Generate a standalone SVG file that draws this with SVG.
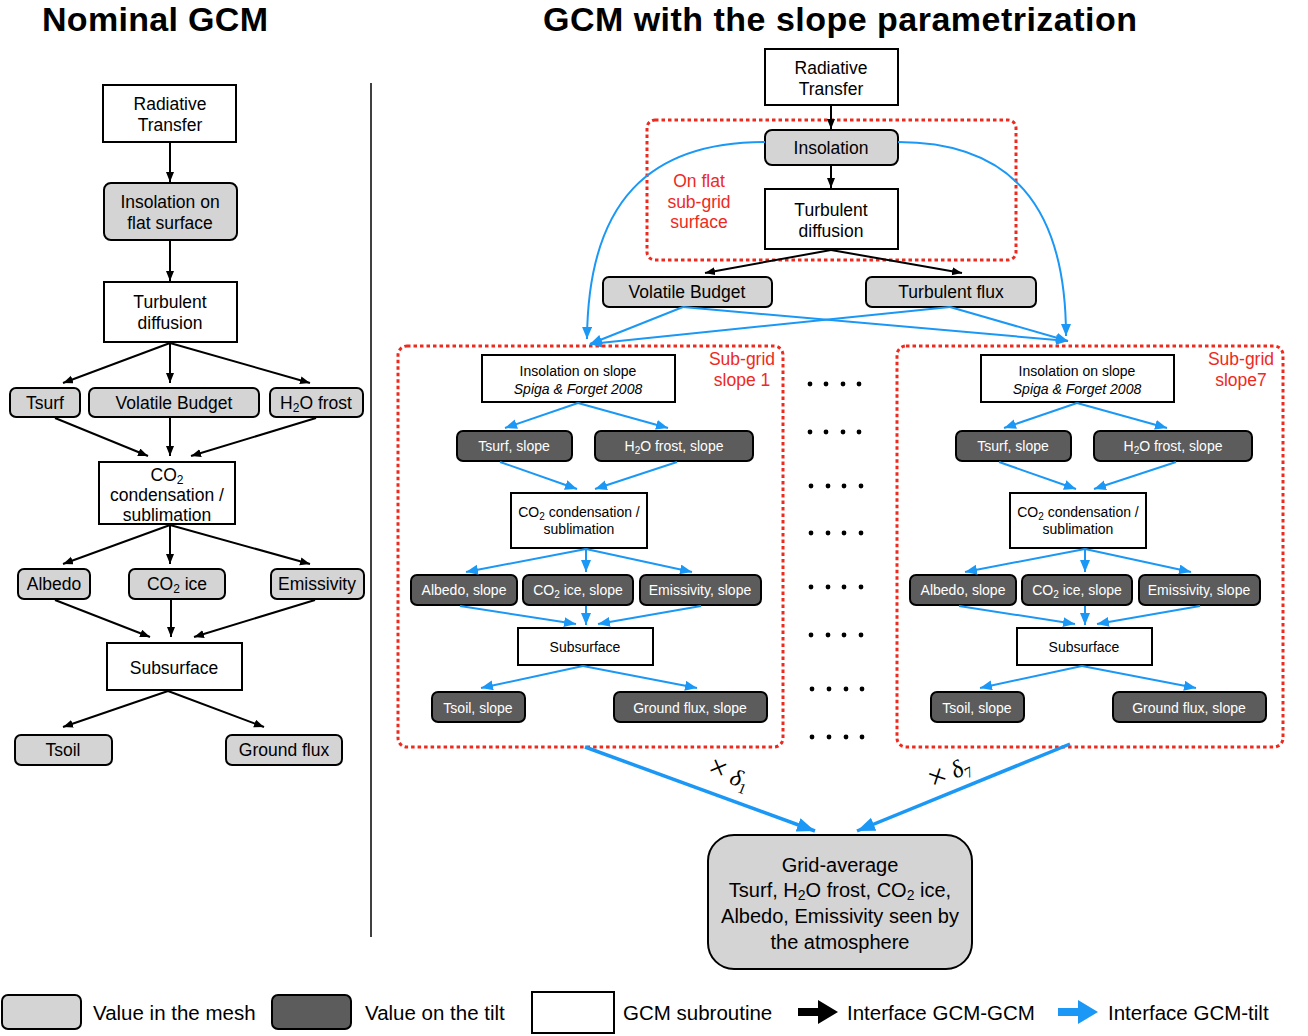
<svg xmlns="http://www.w3.org/2000/svg" width="1308" height="1036" viewBox="0 0 1308 1036">
<style>
text{font-family:"Liberation Sans",Arial,sans-serif;fill:#000}
.title{font-size:34px;font-weight:bold;text-anchor:middle}
.box{fill:#fff;stroke:#000;stroke-width:2}
.lg{fill:#d4d4d4;stroke:#000;stroke-width:2}
.dk{fill:#5c5c5c;stroke:#000;stroke-width:2}
.t17{font-size:17.5px;text-anchor:middle}
.t14{font-size:14px;text-anchor:middle}
.w14{font-size:14px;text-anchor:middle;fill:#fff}
.red{font-size:17.5px;text-anchor:middle;fill:#ee2a1e}
.redbox{fill:none;stroke:#ee2a1e;stroke-width:3;stroke-dasharray:3.5 3}
.blk{stroke:#000;stroke-width:2;fill:none;marker-end:url(#ab)}
.blu{stroke:#1b98f5;stroke-width:2;fill:none;marker-end:url(#au)}
.bluT{stroke:#1b98f5;stroke-width:3.5;fill:none;marker-end:url(#auT)}
.leg{font-size:20.5px}
.dot{fill:#000}
.dl{font-family:"Liberation Serif",serif;font-size:24px}
</style>
<defs>
<marker id="ab" markerUnits="userSpaceOnUse" markerWidth="11" markerHeight="9" refX="10" refY="4" orient="auto"><path d="M0,0 L10,4 L0,8 z" fill="#000"/></marker>
<marker id="au" markerUnits="userSpaceOnUse" markerWidth="13" markerHeight="11" refX="12" refY="5" orient="auto"><path d="M0,0 L12,5 L0,10 z" fill="#1b98f5"/></marker>
<marker id="auT" markerUnits="userSpaceOnUse" markerWidth="19" markerHeight="15" refX="18" refY="7" orient="auto"><path d="M0,0 L18,7 L0,14 z" fill="#1b98f5"/></marker>
</defs>
<rect width="1308" height="1036" fill="#fff"/>

<text class="title" x="155" y="31" textLength="226">Nominal GCM</text>
<text class="title" x="840" y="31" textLength="594">GCM with the slope parametrization</text>
<line x1="371" y1="83" x2="371" y2="937" stroke="#000" stroke-width="1.5"/>

<!-- Left column nodes -->
<g id="L_rad"><rect class="box" x="103" y="85" width="133" height="57"/><text class="t17" x="170" y="110">Radiative</text><text class="t17" x="170" y="131">Transfer</text></g>
<g id="L_insol"><rect class="lg" x="104" y="183" width="133" height="57" rx="7"/><text class="t17" x="170" y="208">Insolation on</text><text class="t17" x="170" y="229">flat surface</text></g>
<g id="L_turb"><rect class="box" x="104" y="282" width="133" height="60"/><text class="t17" x="170" y="308">Turbulent</text><text class="t17" x="170" y="329">diffusion</text></g>
<g id="L_tsurf"><rect class="lg" x="10" y="388" width="70" height="29" rx="6"/><text class="t17" x="45" y="409">Tsurf</text></g>
<g id="L_vb"><rect class="lg" x="89" y="388" width="170" height="29" rx="6"/><text class="t17" x="174" y="409">Volatile Budget</text></g>
<g id="L_h2o"><rect class="lg" x="270" y="388" width="93" height="29" rx="6"/><text class="t17" x="316" y="409">H<tspan font-size="12" dy="3">2</tspan><tspan dy="-3">O frost</tspan></text></g>
<g id="L_co2"><rect class="box" x="99" y="462" width="136" height="62"/><text class="t17" x="167" y="481">CO<tspan font-size="12" dy="3">2</tspan></text><text class="t17" x="167" y="501">condensation /</text><text class="t17" x="167" y="521">sublimation</text></g>
<g id="L_alb"><rect class="lg" x="18" y="569" width="72" height="30" rx="6"/><text class="t17" x="54" y="590">Albedo</text></g>
<g id="L_co2ice"><rect class="lg" x="129" y="569" width="96" height="30" rx="6"/><text class="t17" x="177" y="590">CO<tspan font-size="12" dy="3">2</tspan><tspan dy="-3"> ice</tspan></text></g>
<g id="L_emis"><rect class="lg" x="271" y="569" width="93" height="30" rx="6"/><text class="t17" x="317" y="590">Emissivity</text></g>
<g id="L_sub"><rect class="box" x="107" y="643" width="135" height="47"/><text class="t17" x="174" y="674">Subsurface</text></g>
<g id="L_tsoil"><rect class="lg" x="15" y="735" width="97" height="30" rx="6"/><text class="t17" x="63" y="756">Tsoil</text></g>
<g id="L_gf"><rect class="lg" x="226" y="735" width="116" height="30" rx="6"/><text class="t17" x="284" y="756">Ground flux</text></g>

<!-- Right top -->
<g id="flatzone"><rect class="redbox" x="647" y="120" width="369" height="140" rx="8"/><text class="red" x="699" y="187">On flat</text><text class="red" x="699" y="208">sub-grid</text><text class="red" x="699" y="228">surface</text></g>
<g id="R_rad"><rect class="box" x="765" y="49" width="133" height="56"/><text class="t17" x="831" y="74">Radiative</text><text class="t17" x="831" y="95">Transfer</text></g>
<g id="R_insol"><rect class="lg" x="765" y="130" width="133" height="35" rx="7"/><text class="t17" x="831" y="154">Insolation</text></g>
<g id="R_turb"><rect class="box" x="765" y="189" width="133" height="60"/><text class="t17" x="831" y="216">Turbulent</text><text class="t17" x="831" y="237">diffusion</text></g>
<g id="R_vb"><rect class="lg" x="603" y="277" width="169" height="30" rx="6"/><text class="t17" x="687" y="298">Volatile Budget</text></g>
<g id="R_tf"><rect class="lg" x="866" y="277" width="170" height="30" rx="6"/><text class="t17" x="951" y="298">Turbulent flux</text></g>

<!-- Slope 1 -->
<g id="slope1">
<g id="S1_zone"><rect class="redbox" x="398" y="346" width="385" height="401" rx="9"/><text class="red" x="742" y="365">Sub-grid</text><text class="red" x="742" y="386">slope 1</text></g>
<g id="S1_insol"><rect class="box" x="482" y="355" width="193" height="47"/><text class="t14" x="578" y="376">Insolation on slope</text><text class="t14" x="578" y="394" font-style="italic">Spiga &amp; Forget 2008</text></g>
<g id="S1_tsurf"><rect class="dk" x="457" y="431" width="115" height="30" rx="6"/><text class="w14" x="514" y="451">Tsurf, slope</text></g>
<g id="S1_h2o"><rect class="dk" x="595" y="431" width="158" height="30" rx="6"/><text class="w14" x="674" y="451">H<tspan font-size="10" dy="2.5">2</tspan><tspan dy="-2.5">O frost, slope</tspan></text></g>
<g id="S1_co2"><rect class="box" x="511" y="493" width="136" height="55"/><text class="t14" x="579" y="517">CO<tspan font-size="10" dy="2.5">2</tspan><tspan dy="-2.5"> condensation /</tspan></text><text class="t14" x="579" y="534">sublimation</text></g>
<g id="S1_alb"><rect class="dk" x="411" y="575" width="106" height="30" rx="6"/><text class="w14" x="464" y="595">Albedo, slope</text></g>
<g id="S1_ice"><rect class="dk" x="523" y="575" width="110" height="30" rx="6"/><text class="w14" x="578" y="595">CO<tspan font-size="10" dy="2.5">2</tspan><tspan dy="-2.5"> ice, slope</tspan></text></g>
<g id="S1_emis"><rect class="dk" x="640" y="575" width="121" height="30" rx="6"/><text class="w14" x="700" y="595">Emissivity, slope</text></g>
<g id="S1_sub"><rect class="box" x="518" y="628" width="135" height="37"/><text class="t14" x="585" y="652">Subsurface</text></g>
<g id="S1_tsoil"><rect class="dk" x="432" y="692" width="93" height="30" rx="6"/><text class="w14" x="478" y="713">Tsoil, slope</text></g>
<g id="S1_gf"><rect class="dk" x="614" y="692" width="153" height="30" rx="6"/><text class="w14" x="690" y="713">Ground flux, slope</text></g>
</g>

<!-- Slope 7 -->
<g id="slope7" transform="translate(499,0)">
<g id="S7_zone"><rect class="redbox" x="398" y="346" width="386" height="401" rx="9"/><text class="red" x="742" y="365">Sub-grid</text><text class="red" x="742" y="386">slope7</text></g>
<g id="S7_insol"><rect class="box" x="482" y="355" width="193" height="47"/><text class="t14" x="578" y="376">Insolation on slope</text><text class="t14" x="578" y="394" font-style="italic">Spiga &amp; Forget 2008</text></g>
<g id="S7_tsurf"><rect class="dk" x="457" y="431" width="115" height="30" rx="6"/><text class="w14" x="514" y="451">Tsurf, slope</text></g>
<g id="S7_h2o"><rect class="dk" x="595" y="431" width="158" height="30" rx="6"/><text class="w14" x="674" y="451">H<tspan font-size="10" dy="2.5">2</tspan><tspan dy="-2.5">O frost, slope</tspan></text></g>
<g id="S7_co2"><rect class="box" x="511" y="493" width="136" height="55"/><text class="t14" x="579" y="517">CO<tspan font-size="10" dy="2.5">2</tspan><tspan dy="-2.5"> condensation /</tspan></text><text class="t14" x="579" y="534">sublimation</text></g>
<g id="S7_alb"><rect class="dk" x="411" y="575" width="106" height="30" rx="6"/><text class="w14" x="464" y="595">Albedo, slope</text></g>
<g id="S7_ice"><rect class="dk" x="523" y="575" width="110" height="30" rx="6"/><text class="w14" x="578" y="595">CO<tspan font-size="10" dy="2.5">2</tspan><tspan dy="-2.5"> ice, slope</tspan></text></g>
<g id="S7_emis"><rect class="dk" x="640" y="575" width="121" height="30" rx="6"/><text class="w14" x="700" y="595">Emissivity, slope</text></g>
<g id="S7_sub"><rect class="box" x="518" y="628" width="135" height="37"/><text class="t14" x="585" y="652">Subsurface</text></g>
<g id="S7_tsoil"><rect class="dk" x="432" y="692" width="93" height="30" rx="6"/><text class="w14" x="478" y="713">Tsoil, slope</text></g>
<g id="S7_gf"><rect class="dk" x="614" y="692" width="153" height="30" rx="6"/><text class="w14" x="690" y="713">Ground flux, slope</text></g>
</g>

<!-- dots -->
<g id="dots" class="dot">
<circle cx="810" cy="384" r="2.4"/><circle cx="826" cy="384" r="2.4"/><circle cx="843" cy="384" r="2.4"/><circle cx="859" cy="384" r="2.4"/>
<circle cx="810" cy="432" r="2.4"/><circle cx="826" cy="432" r="2.4"/><circle cx="843" cy="432" r="2.4"/><circle cx="859" cy="432" r="2.4"/>
<circle cx="811" cy="486" r="2.4"/><circle cx="828" cy="486" r="2.4"/><circle cx="844" cy="486" r="2.4"/><circle cx="861" cy="486" r="2.4"/>
<circle cx="811" cy="533" r="2.4"/><circle cx="828" cy="533" r="2.4"/><circle cx="844" cy="533" r="2.4"/><circle cx="861" cy="533" r="2.4"/>
<circle cx="811" cy="587" r="2.4"/><circle cx="828" cy="587" r="2.4"/><circle cx="844" cy="587" r="2.4"/><circle cx="861" cy="587" r="2.4"/>
<circle cx="811" cy="635" r="2.4"/><circle cx="828" cy="635" r="2.4"/><circle cx="844" cy="635" r="2.4"/><circle cx="861" cy="635" r="2.4"/>
<circle cx="812" cy="689" r="2.4"/><circle cx="829" cy="689" r="2.4"/><circle cx="846" cy="689" r="2.4"/><circle cx="862" cy="689" r="2.4"/>
<circle cx="812" cy="737" r="2.4"/><circle cx="829" cy="737" r="2.4"/><circle cx="846" cy="737" r="2.4"/><circle cx="862" cy="737" r="2.4"/>
</g>

<!-- Grid average -->
<g id="gridavg"><rect class="lg" x="708" y="835" width="264" height="134" rx="26"/>
<text class="t17" style="font-size:20px" x="840" y="872">Grid-average</text>
<text class="t17" style="font-size:20px" x="840" y="897">Tsurf, H<tspan font-size="14" dy="3">2</tspan><tspan dy="-3">O frost, CO</tspan><tspan font-size="14" dy="3">2</tspan><tspan dy="-3"> ice,</tspan></text>
<text class="t17" style="font-size:20px" x="840" y="923">Albedo, Emissivity seen by</text>
<text class="t17" style="font-size:20px" x="840" y="949">the atmosphere</text></g>

<!-- Connectors -->
<g id="connectors">
<line class="blk" x1="170" y1="142" x2="170" y2="182"/>
<line class="blk" x1="170" y1="240" x2="170" y2="281"/>
<line class="blk" x1="170" y1="343" x2="63" y2="383"/>
<line class="blk" x1="170" y1="343" x2="170" y2="383"/>
<line class="blk" x1="170" y1="343" x2="310" y2="383"/>
<line class="blk" x1="55" y1="418" x2="148" y2="456"/>
<line class="blk" x1="170" y1="418" x2="170" y2="456"/>
<line class="blk" x1="316" y1="418" x2="191" y2="456"/>
<line class="blk" x1="170" y1="525" x2="63" y2="564"/>
<line class="blk" x1="170" y1="525" x2="170" y2="564"/>
<line class="blk" x1="170" y1="525" x2="310" y2="564"/>
<line class="blk" x1="55" y1="600" x2="150" y2="637"/>
<line class="blk" x1="171" y1="600" x2="171" y2="637"/>
<line class="blk" x1="315" y1="600" x2="194" y2="637"/>
<line class="blk" x1="168" y1="691" x2="63" y2="727"/>
<line class="blk" x1="168" y1="691" x2="264" y2="727"/>

<line class="blk" x1="831" y1="105" x2="831" y2="129"/>
<line class="blk" x1="831" y1="165" x2="831" y2="188"/>
<line class="blk" x1="831" y1="250" x2="705" y2="273"/>
<line class="blk" x1="831" y1="250" x2="962" y2="273"/>

<path class="blu" d="M765,142 C650,142 588,200 587,339"/>
<path class="blu" d="M898,142 C1010,142 1066,205 1066,336"/>
<line class="blu" x1="683" y1="307" x2="590" y2="344"/>
<line class="blu" x1="683" y1="307" x2="1068" y2="341"/>
<line class="blu" x1="950" y1="307" x2="590" y2="344"/>
<line class="blu" x1="950" y1="307" x2="1068" y2="341"/>

<g id="c_slope1">
<line class="blu" x1="578" y1="403" x2="505" y2="428"/>
<line class="blu" x1="578" y1="403" x2="668" y2="428"/>
<line class="blu" x1="500" y1="462" x2="577" y2="489"/>
<line class="blu" x1="677" y1="462" x2="595" y2="489"/>
<line class="blu" x1="586" y1="549" x2="466" y2="572"/>
<line class="blu" x1="586" y1="549" x2="586" y2="572"/>
<line class="blu" x1="586" y1="549" x2="692" y2="572"/>
<line class="blu" x1="460" y1="606" x2="576" y2="624"/>
<line class="blu" x1="586" y1="606" x2="586" y2="625"/>
<line class="blu" x1="701" y1="606" x2="598" y2="624"/>
<line class="blu" x1="583" y1="666" x2="481" y2="688"/>
<line class="blu" x1="583" y1="666" x2="697" y2="688"/>
</g>
<g id="c_slope7" transform="translate(499,0)">
<line class="blu" x1="578" y1="403" x2="505" y2="428"/>
<line class="blu" x1="578" y1="403" x2="668" y2="428"/>
<line class="blu" x1="500" y1="462" x2="577" y2="489"/>
<line class="blu" x1="677" y1="462" x2="595" y2="489"/>
<line class="blu" x1="586" y1="549" x2="466" y2="572"/>
<line class="blu" x1="586" y1="549" x2="586" y2="572"/>
<line class="blu" x1="586" y1="549" x2="692" y2="572"/>
<line class="blu" x1="460" y1="606" x2="576" y2="624"/>
<line class="blu" x1="586" y1="606" x2="586" y2="625"/>
<line class="blu" x1="701" y1="606" x2="598" y2="624"/>
<line class="blu" x1="583" y1="666" x2="481" y2="688"/>
<line class="blu" x1="583" y1="666" x2="697" y2="688"/>
</g>

<line class="bluT" x1="585" y1="747" x2="815" y2="831"/>
<line class="bluT" x1="1070" y1="744" x2="857" y2="831"/>
<text class="dl" transform="translate(706,774) rotate(22)"><tspan font-size="32">×</tspan> <tspan font-style="italic">δ</tspan><tspan font-size="15" dy="5">1</tspan></text>
<text class="dl" transform="translate(934,790) rotate(-27)"><tspan font-size="32">×</tspan> <tspan font-style="italic">δ</tspan><tspan font-size="15" dy="5">7</tspan></text>
</g>

<!-- Legend -->
<g id="legend">
<rect class="lg" x="2" y="995" width="79" height="34" rx="6"/><text class="leg" x="93" y="1020">Value in the mesh</text>
<rect class="dk" x="272" y="995" width="79" height="34" rx="6"/><text class="leg" x="365" y="1020">Value on the tilt</text>
<rect class="box" x="532" y="992" width="82" height="41"/><text class="leg" x="623" y="1020">GCM subroutine</text>
<polygon points="798,1008 818,1008 818,1000 838,1012 818,1024 818,1016 798,1016" fill="#000"/><text class="leg" x="847" y="1020">Interface GCM-GCM</text>
<polygon points="1058,1008 1078,1008 1078,1000 1098,1012 1078,1024 1078,1016 1058,1016" fill="#1b98f5"/><text class="leg" x="1108" y="1020">Interface GCM-tilt</text>
</g>
</svg>
